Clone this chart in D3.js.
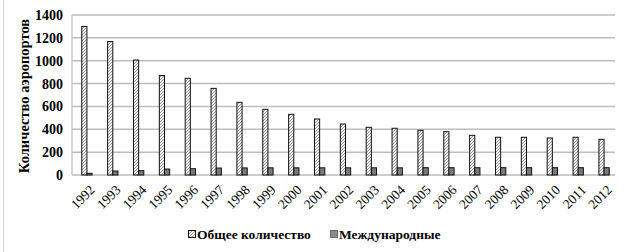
<!DOCTYPE html>
<html><head><meta charset="utf-8">
<script src="https://cdn.jsdelivr.net/npm/d3@7"></script>
<style>body{margin:0;background:#fff}svg{display:block}</style>
</head><body>
<svg id="c" width="630" height="252"></svg>
<script>
const years = ["1992","1993","1994","1995","1996","1997","1998","1999","2000","2001","2002","2003","2004","2005","2006","2007","2008","2009","2010","2011","2012"];
const totalValues = [1300,1168,1006,870,846,758,636,575,531,490,446,417,409,391,379,347,330,330,324,330,312];
const intlValues = [15,35,38,52,55,61,62,63,63,63,63,63,63,64,64,64,64,64,64,64,64];
const seriesNames = ["Общее количество","Международные"];
const yTicks = [0,200,400,600,800,1000,1200,1400];
const yLabel = "Количество аэропортов";

(function(){
const svg = d3.select("#c");
const FF = '"Liberation Serif"';
const defs = svg.append("defs");
const p1 = defs.append("pattern").attr("id","hatch").attr("patternUnits","userSpaceOnUse").attr("width",3).attr("height",3);
p1.append("rect").attr("width",3).attr("height",3).attr("fill","#f2f2f2");
p1.append("path").attr("d","M0,3L3,0M-1,1L1,-1M2,4L4,2").attr("stroke","#8a8a8a").attr("stroke-width",0.9);
const p2 = defs.append("pattern").attr("id","dark").attr("patternUnits","userSpaceOnUse").attr("width",2).attr("height",2);
p2.append("rect").attr("width",2).attr("height",2).attr("fill","#7f7f7f");
p2.append("rect").attr("width",1).attr("height",1).attr("fill","#6a6a6a");

svg.append("rect").attr("x",3.5).attr("y",-1).attr("width",640).attr("height",260).attr("fill","none").attr("stroke","#d0d0d0");

const mL = 72, mR = 615, mT = 15, mB = 175;
const x = d3.scaleBand().domain(years).range([mL+2, mR+2]).paddingInner(0.6).paddingOuter(0.3);
const x1 = d3.scaleBand().domain([0,1]).range([0, x.bandwidth()]);
const y = d3.scaleLinear().domain([0,1400]).range([mB, mT]);

svg.append("g").selectAll("line").data(yTicks).join("line")
  .attr("x1",mL).attr("x2",mR).attr("y1",d=>y(d)).attr("y2",d=>y(d))
  .attr("stroke","#bdbdbd").attr("stroke-width",1.5);
svg.append("line").attr("x1",mL).attr("x2",mL).attr("y1",mT).attr("y2",mB).attr("stroke","#bdbdbd").attr("stroke-width",1.2);

const yAxis = svg.append("g").attr("transform",`translate(${mL},0)`)
  .call(d3.axisLeft(y).tickValues(yTicks).tickFormat(d=>String(d)).tickSize(0).tickPadding(9));
yAxis.select(".domain").remove();
yAxis.attr("font-family",FF).attr("font-size",14).attr("font-weight","bold");
yAxis.selectAll("text").style("font-family",FF).style("font-weight","bold").style("font-size","14px").attr("fill","#000");

const g = svg.append("g");
years.forEach((yr,i)=>{
  g.append("rect").attr("x",x(yr)+x1(0)).attr("y",y(totalValues[i])).attr("width",x1.bandwidth()).attr("height",mB-y(totalValues[i]))
    .attr("fill","url(#hatch)").attr("stroke","#111").attr("stroke-width",1);
  g.append("rect").attr("x",x(yr)+x1(1)).attr("y",y(intlValues[i])).attr("width",x1.bandwidth()).attr("height",mB-y(intlValues[i]))
    .attr("fill","url(#dark)").attr("stroke","#111").attr("stroke-width",1);
});

const xAxis = svg.append("g").attr("transform",`translate(0,${mB})`)
  .call(d3.axisBottom(x).tickSize(0).tickPadding(4));
xAxis.select(".domain").remove();
xAxis.attr("font-family",FF).attr("font-size",13);
xAxis.selectAll("text").style("font-family",FF).style("font-size","13.5px").attr("fill","#000")
  .attr("text-anchor","end").attr("dy","0.3em")
  .attr("transform","translate(3,10) rotate(-45)");

svg.append("text").attr("transform","translate(29,96) rotate(-90)").attr("text-anchor","middle")
  .style("font-family",FF).style("font-weight","bold").style("font-size","14.5px").text(yLabel);

const legend = svg.append("g");
const lx = [192, 334];
seriesNames.forEach((n,i)=>{
  legend.append("rect").attr("x",lx[i]-3.5).attr("y",230.5).attr("width",7).attr("height",7)
    .attr("fill", i===0?"url(#hatch)":"#8a8a8a").attr("stroke", i===0?"#111":"#6a6a6a");
  legend.append("text").attr("x",lx[i]+5).attr("y",239).style("font-family",FF).style("font-weight","bold")
    .style("font-size","13.5px").text(n);
});
})();
</script>
</body></html>
